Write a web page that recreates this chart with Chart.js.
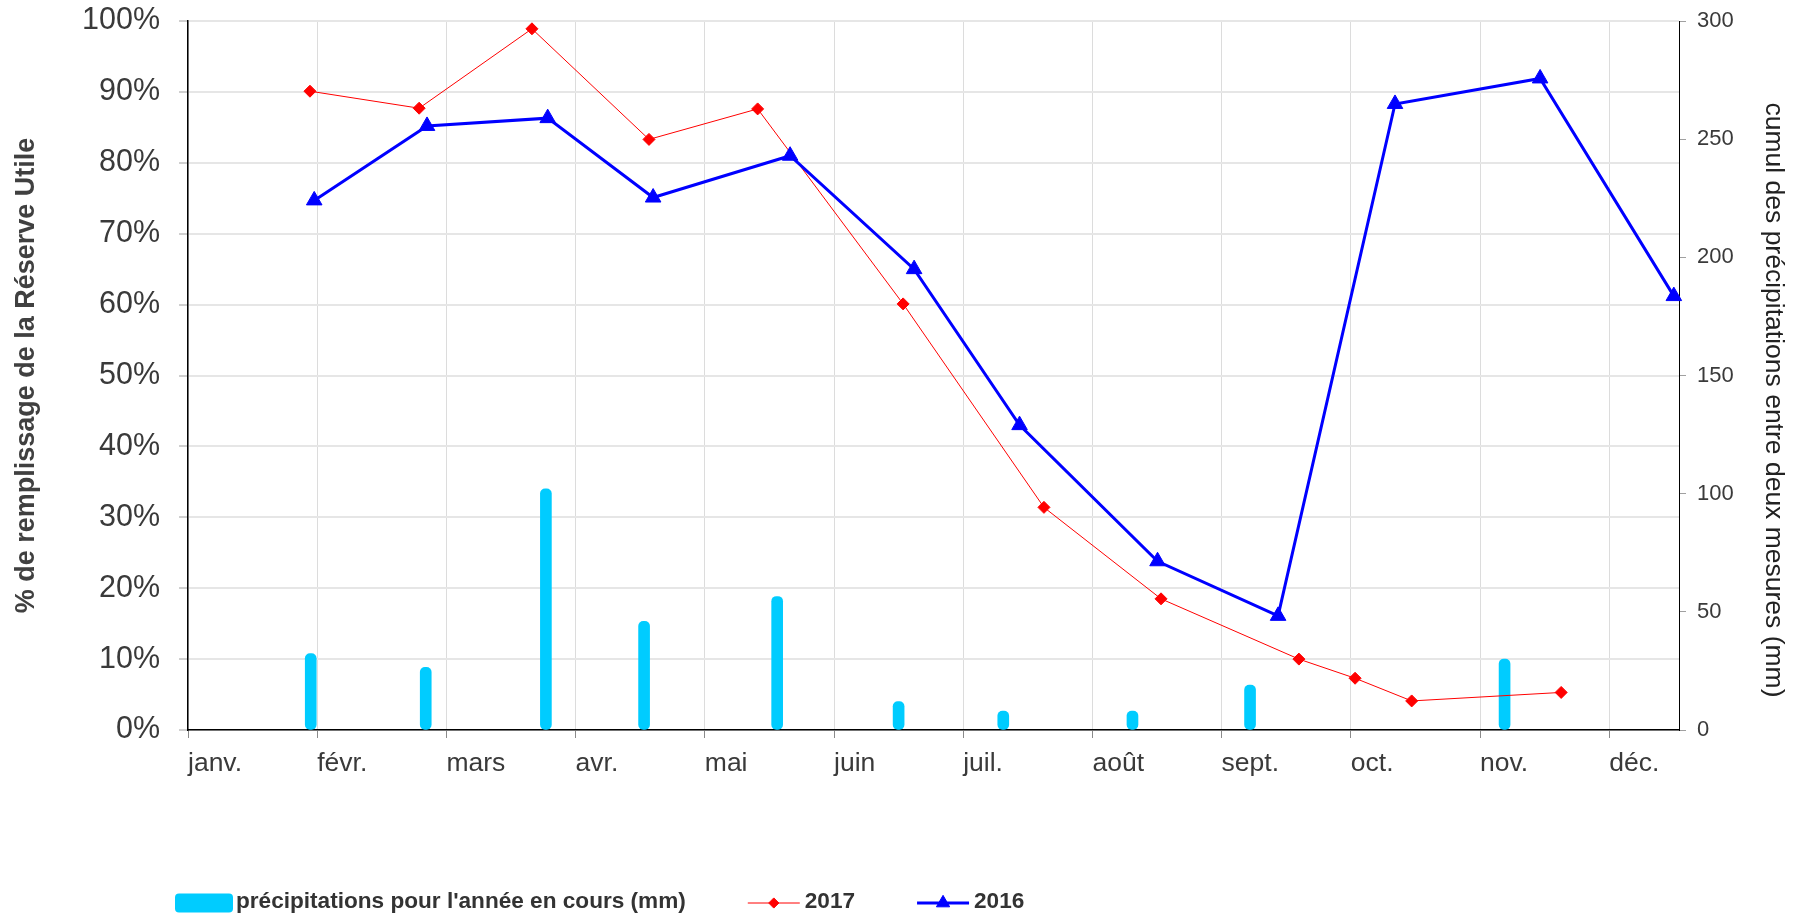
<!DOCTYPE html>
<html lang="fr">
<head>
<meta charset="utf-8">
<title>Réserve utile et précipitations</title>
<script src="https://cdn.jsdelivr.net/npm/chart.js@4/dist/chart.umd.min.js"></script>
<style>
  html, body { margin: 0; padding: 0; background: #ffffff; }
  #wrap { width: 1796px; height: 915px; position: relative; }
</style>
</head>
<body>
<div id="wrap"><canvas id="graphique" width="1796" height="915"></canvas></div>
<script>
// Mois de l'axe horizontal (une graduation par mois, 0 = janvier)
const mois = ['janv.', 'févr.', 'mars', 'avr.', 'mai', 'juin', 'juil.', 'août', 'sept.', 'oct.', 'nov.', 'déc.'];

// Précipitations entre deux mesures (mm), position en mois
const pluieX  = [0.95, 1.84, 2.77, 3.53, 4.56, 5.50, 6.31, 7.31, 8.22, 10.19];
const pluieMm = [32.3, 26.5, 102, 46, 56.5, 12, 8, 8, 19, 30];

// Remplissage de la réserve utile (%) — 2017
const x2017  = [0.944, 1.789, 2.662, 3.568, 4.409, 5.535, 6.625, 7.531, 8.598, 9.033, 9.471, 10.628];
const ru2017 = [90.1, 87.7, 98.9, 83.3, 87.6, 60.1, 31.4, 18.5, 10.0, 7.3, 4.1, 5.3];

// Remplissage de la réserve utile (%) — 2016
const x2016  = [0.977, 1.850, 2.784, 3.600, 4.660, 5.620, 6.436, 7.504, 8.437, 9.342, 10.465, 11.50];
const ru2016 = [74.7, 85.2, 86.3, 75.1, 81.0, 65.0, 43.0, 23.8, 16.1, 88.3, 91.9, 61.2];

// Graduations des axes
const gradPct = [0, 10, 20, 30, 40, 50, 60, 70, 80, 90, 100];
const gradMm  = [0, 50, 100, 150, 200, 250, 300];

const titreGauche = '% de remplissage de la Réserve Utile';
const titreDroit  = 'cumul des précipitations entre deux mesures (mm)';

const police = '"Liberation Sans", Arial, Helvetica, sans-serif';
const paires = (xs, ys) => xs.map((x, i) => ({ x: x, y: ys[i] }));

// Marqueurs dessinés avec la même géométrie que Chart.js
function marqueur(ctx, style, x, y, r) {
  ctx.beginPath();
  if (style === 'rectRot') {
    ctx.moveTo(x - r, y); ctx.lineTo(x, y - r); ctx.lineTo(x + r, y); ctx.lineTo(x, y + r);
  } else {
    const dx = Math.sin(Math.PI * 2 / 3) * r;
    ctx.moveTo(x, y - r); ctx.lineTo(x + dx, y + r / 2); ctx.lineTo(x - dx, y + r / 2);
  }
  ctx.closePath();
}

// Légende en bas du graphique
const legendeBas = {
  id: 'legendeBas',
  afterDraw(chart) {
    const ctx = chart.ctx;
    const yc = 903;
    let x = 175;
    ctx.save();
    ctx.font = 'bold 22.6px ' + police;
    ctx.textBaseline = 'middle';
    chart.data.datasets.forEach(ds => {
      if (ds.type === 'bar') {
        ctx.fillStyle = ds.backgroundColor;
        ctx.beginPath();
        ctx.roundRect(x, yc - 9.5, 58, 19, 4);
        ctx.fill();
        x += 58 + 3;
      } else {
        ctx.strokeStyle = ds.borderColor;
        ctx.lineWidth = ds.borderWidth;
        ctx.beginPath();
        ctx.moveTo(x, yc); ctx.lineTo(x + 52, yc);
        ctx.stroke();
        marqueur(ctx, ds.pointStyle, x + 26, yc, ds.pointRadius * 0.85);
        ctx.fillStyle = ds.pointBackgroundColor;
        ctx.fill();
        ctx.lineWidth = 1;
        ctx.strokeStyle = ds.pointBorderColor;
        ctx.stroke();
        x += 52 + 5;
      }
      ctx.fillStyle = '#333333';
      ctx.textAlign = 'left';
      ctx.fillText(ds.label, x, yc - 1);
      x += ctx.measureText(ds.label).width + 62;
    });
    ctx.restore();
  }
};

// Titre de l'axe de droite (lecture de haut en bas)
const titreAxeDroit = {
  id: 'titreAxeDroit',
  afterDraw(chart) {
    const ctx = chart.ctx;
    ctx.save();
    ctx.translate(1773, 400);
    ctx.rotate(Math.PI / 2);
    ctx.font = '26.5px ' + police;
    ctx.fillStyle = '#222222';
    ctx.textAlign = 'center';
    ctx.textBaseline = 'middle';
    ctx.fillText(titreDroit, 0, 0);
    ctx.restore();
  }
};

// Les étiquettes ne doivent pas réduire la zone de tracé
const sansMarge = s => { s.paddingTop = 0; s.paddingBottom = 0; };

new Chart(document.getElementById('graphique'), {
  type: 'line',
  data: {
    datasets: [
      {
        type: 'bar',
        label: "précipitations pour l'année en cours (mm)",
        data: paires(pluieX, pluieMm),
        yAxisID: 'y1',
        backgroundColor: '#00CCFF',
        barThickness: 11,
        borderRadius: 5,
        borderSkipped: false,
        order: 3
      },
      {
        type: 'line',
        label: '2017',
        data: paires(x2017, ru2017),
        yAxisID: 'y',
        borderColor: '#FF0000',
        borderWidth: 1,
        pointStyle: 'rectRot',
        pointRadius: 6,
        pointBackgroundColor: '#FF0000',
        pointBorderColor: '#FF0000',
        pointBorderWidth: 1,
        tension: 0,
        clip: false,
        order: 2
      },
      {
        type: 'line',
        label: '2016',
        data: paires(x2016, ru2016),
        yAxisID: 'y',
        borderColor: '#0000FF',
        borderWidth: 3,
        pointStyle: 'triangle',
        pointRadius: 9,
        pointBackgroundColor: '#0000FF',
        pointBorderColor: '#0000FF',
        pointBorderWidth: 1,
        tension: 0,
        clip: false,
        order: 1
      }
    ]
  },
  options: {
    responsive: false,
    animation: false,
    devicePixelRatio: 1,
    layout: { padding: { top: 21, left: 0, right: 0, bottom: 0 } },
    plugins: {
      legend: { display: false },
      tooltip: { enabled: false }
    },
    scales: {
      x: {
        type: 'linear',
        min: 0,
        max: 11.54,
        offset: false,
        afterBuildTicks: s => { s.ticks = mois.map((m, i) => ({ value: i })); },
        afterFit: s => { s.height = 185; s.paddingLeft = 0; s.paddingRight = 0; },
        ticks: {
          align: 'start',
          autoSkip: false,
          maxRotation: 0,
          padding: 10,
          color: '#3a3a3a',
          font: { family: police, size: 26.5 },
          callback: v => mois[Math.round(v)]
        },
        grid: {
          color: '#dcdcdc',
          lineWidth: 1,
          tickColor: '#8a8a8a',
          tickLength: 8,
          offset: false
        },
        border: { color: '#000000', width: 1.5 }
      },
      y: {
        position: 'left',
        min: 0,
        max: 100,
        afterBuildTicks: s => { s.ticks = gradPct.map(v => ({ value: v })); },
        afterFit: s => { s.width = 188; sansMarge(s); },
        ticks: {
          padding: 19,
          color: '#3a3a3a',
          font: { family: police, size: 30.5 },
          callback: v => v + '%'
        },
        grid: {
          color: '#e6e6e6',
          lineWidth: 2,
          tickColor: '#a0a0a0',
          tickWidth: 1,
          tickLength: 9
        },
        border: { color: '#000000', width: 1.5 },
        title: {
          display: true,
          text: titreGauche,
          color: '#404040',
          font: { family: police, size: 27, weight: 'bold' },
          padding: { top: 10, bottom: 0 }
        }
      },
      y1: {
        position: 'right',
        min: 0,
        max: 300,
        afterBuildTicks: s => { s.ticks = gradMm.map(v => ({ value: v })); },
        afterFit: s => { s.width = 117; sansMarge(s); },
        ticks: {
          padding: 11,
          color: '#3a3a3a',
          font: { family: police, size: 22 }
        },
        grid: {
          drawOnChartArea: false,
          tickColor: '#a0a0a0',
          tickLength: 7
        },
        border: { color: '#000000', width: 1 }
      }
    }
  },
  plugins: [legendeBas, titreAxeDroit]
});
</script>
</body>
</html>
